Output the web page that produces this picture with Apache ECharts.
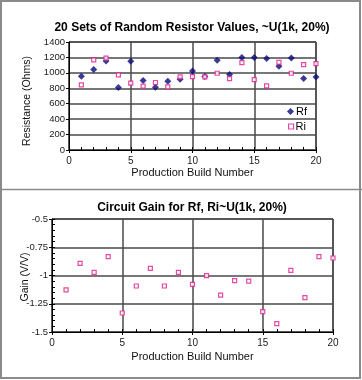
<!DOCTYPE html>
<html><head><meta charset="utf-8">
<script src="https://cdn.jsdelivr.net/npm/echarts@6/dist/echarts.min.js"></script>
<style>html,body{margin:0;padding:0;background:#fff}#c{width:362px;height:380px}</style>
</head><body><div id="c"></div>
<script>
const builds = [1,2,3,4,5,6,7,8,9,10,11,12,13,14,15,16,17,18,19,20];
const rfValues = [956,1045,1155,810,1150,900,814,890,918,1025,952,1163,978,1198,1198,1185,1086,1193,926,946];
const riValues = [844,1167,1190,974,866,827,875,818,948,952,948,995,926,1133,913,831,1137,995,1107,1120];
const gainValues = [-1.128,-0.892,-0.972,-0.833,-1.332,-1.093,-0.937,-1.093,-0.972,-1.078,-1.001,-1.173,-1.046,-1.049,-1.320,-1.426,-0.954,-1.196,-0.833,-0.845];
const resTicks = {min:0, max:1400, interval:200};
const gainTicks = {min:-1.5, max:-0.5, interval:0.25, minor:0.05};
const buildTicks = {min:0, max:20, interval:5, minor:1};

const FONT = 'Liberation Sans, Arial, sans-serif';
const GRIDC = '#4a4a4a';
const PINK = '#dd1c8c';
const NAVY = '#0a0a78';

const pairs = (ys) => builds.map((b,i)=>[b, ys[i]]);

function mainX(gridIndex, nameGap){
  return {
    type:'value', gridIndex, min:buildTicks.min, max:buildTicks.max, interval:buildTicks.interval,
    position:'bottom',
    name:'Production Build Number', nameLocation:'middle', nameGap,
    nameTextStyle:{fontFamily:FONT, fontSize:11, color:'#111'},
    axisLine:{show:true, onZero:false, lineStyle:{color:'#000', width:1}},
    axisTick:{show:true, inside:false, length:3, lineStyle:{color:'#000'}},
    axisLabel:{fontFamily:FONT, fontSize:10, color:'#222', margin:6},
    splitLine:{show:true, lineStyle:{color:GRIDC, width:1.5}}
  };
}
function minorX(gridIndex){
  return {
    type:'value', gridIndex, min:buildTicks.min, max:buildTicks.max, interval:buildTicks.minor,
    position:'bottom',
    axisLine:{show:false, onZero:false},
    axisTick:{show:true, inside:true, length:3, lineStyle:{color:'#000'}},
    axisLabel:{show:false}, splitLine:{show:false}
  };
}

const option = {
  animation:false,
  backgroundColor:'#fff',
  title:[
    {text:'20 Sets of Random Resistor Values, ~U(1k, 20%)', left:187, top:17, textAlign:'center',
     textStyle:{fontFamily:FONT, fontSize:12, fontWeight:'bold', color:'#000'}},
    {text:'Circuit Gain for Rf, Ri~U(1k, 20%)', left:187, top:197, textAlign:'center',
     textStyle:{fontFamily:FONT, fontSize:12, fontWeight:'bold', color:'#000'}}
  ],
  legend:[
    {left:287, top:106, padding:0, itemWidth:7, itemHeight:7,
     textStyle:{fontFamily:FONT, fontSize:11, color:'#000', padding:[0,0,0,-3]},
     data:[{name:'Rf', icon:'diamond', itemStyle:{color:NAVY}}]},
    {left:288, top:121, padding:0, itemWidth:5, itemHeight:5,
     textStyle:{fontFamily:FONT, fontSize:11, color:'#000', padding:[0,0,0,-3]},
     data:[{name:'Ri', icon:'rect', itemStyle:{color:'#fff', borderColor:PINK, borderWidth:1.2}}]}
  ],
  grid:[
    {left:69, top:42, width:247, height:108, show:true, borderColor:'#000', borderWidth:1, backgroundColor:'transparent'},
    {left:52, top:219, width:281, height:113, show:true, borderColor:'#000', borderWidth:1, backgroundColor:'transparent'}
  ],
  xAxis:[ mainX(0,17), minorX(0), mainX(1,19), minorX(1) ],
  yAxis:[
    {type:'value', gridIndex:0, min:resTicks.min, max:resTicks.max, interval:resTicks.interval,
     axisLine:{show:true, onZero:false, lineStyle:{color:'#000'}},
     axisTick:{show:true, length:3, lineStyle:{color:'#000'}},
     axisLabel:{fontFamily:FONT, fontSize:9.5, color:'#222', margin:4, formatter:(v)=>String(v)},
     splitLine:{show:true, lineStyle:{color:GRIDC, width:1.5}}},
    {type:'value', gridIndex:1, min:gainTicks.min, max:gainTicks.max, interval:gainTicks.interval,
     axisLine:{show:true, onZero:false, lineStyle:{color:'#000'}},
     axisTick:{show:true, length:3, lineStyle:{color:'#000'}},
     axisLabel:{fontFamily:FONT, fontSize:9.5, color:'#222', margin:4},
     splitLine:{show:true, lineStyle:{color:GRIDC, width:1.5}}},
    {type:'value', gridIndex:1, min:gainTicks.min, max:gainTicks.max, interval:gainTicks.minor,
     position:'left',
     axisLine:{show:false, onZero:false},
     axisTick:{show:true, inside:true, length:3, lineStyle:{color:'#000'}},
     axisLabel:{show:false}, splitLine:{show:false}}
  ],
  series:[
    {name:'Rf', type:'scatter', xAxisIndex:0, yAxisIndex:0, data:pairs(rfValues),
     symbol:'diamond', symbolSize:7, itemStyle:{color:NAVY}},
    {name:'Ri', type:'scatter', xAxisIndex:0, yAxisIndex:0, data:pairs(riValues),
     symbol:'rect', symbolSize:4, itemStyle:{color:'#fff', borderColor:PINK, borderWidth:1.2}},
    {name:'Gain', type:'scatter', xAxisIndex:2, yAxisIndex:1, data:pairs(gainValues),
     symbol:'rect', symbolSize:4, itemStyle:{color:'#fff', borderColor:PINK, borderWidth:1.2}}
  ],
  graphic:[
    {type:'rect', shape:{x:1, y:1, width:359, height:377}, style:{fill:'none', stroke:'#8a8a8a', lineWidth:2}, silent:true},
    {type:'line', shape:{x1:0, y1:189.5, x2:362, y2:189.5}, style:{stroke:'#8a8a8a', lineWidth:1.5}, silent:true},
    {type:'text', x:27, y:101, rotation:Math.PI/2, silent:true,
     style:{text:'Resistance (Ohms)', font:'10.5px Liberation Sans, Arial, sans-serif', fill:'#111', textAlign:'center', textVerticalAlign:'middle'}},
    {type:'text', x:25, y:277, rotation:Math.PI/2, silent:true,
     style:{text:'Gain (V/V)', font:'10.5px Liberation Sans, Arial, sans-serif', fill:'#111', textAlign:'center', textVerticalAlign:'middle'}}
  ]
};
const chart = echarts.init(document.getElementById('c'), null, {renderer:'canvas'});
chart.setOption(option);
</script></body></html>
